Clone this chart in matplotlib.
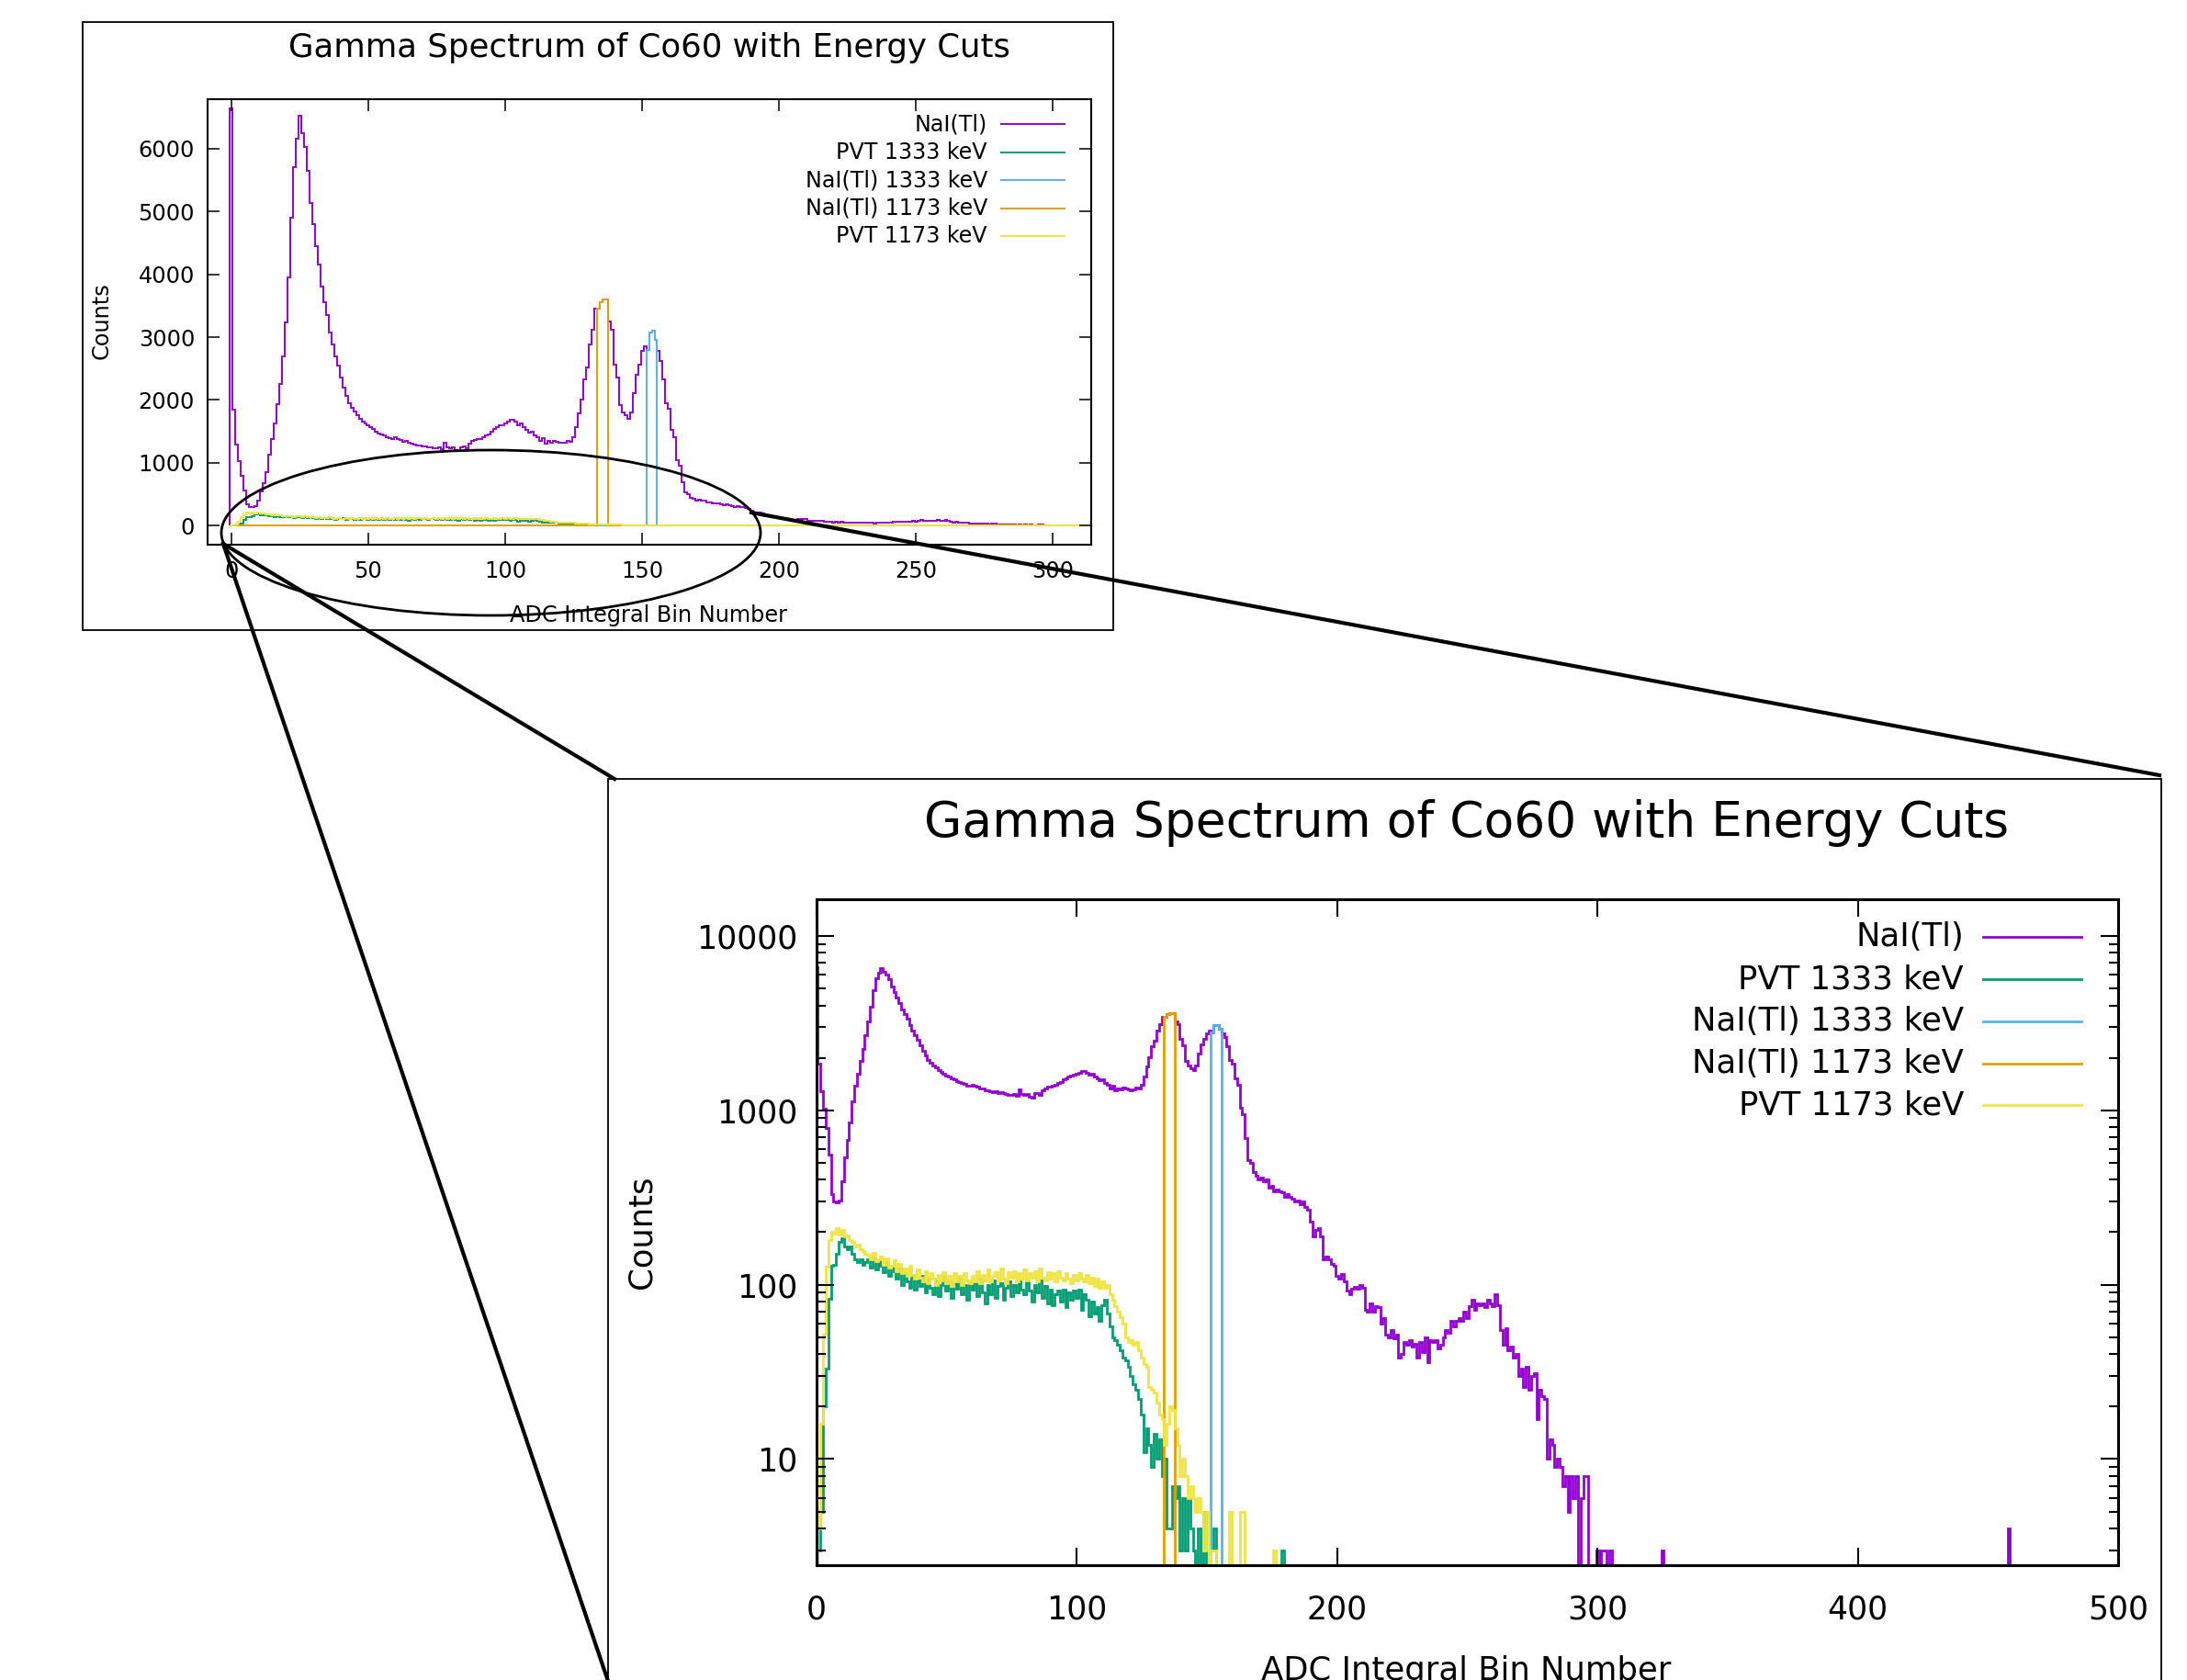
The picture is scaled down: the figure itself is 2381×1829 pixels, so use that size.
import numpy as np
import matplotlib.pyplot as plt
from matplotlib.patches import Rectangle, Ellipse
from matplotlib.lines import Line2D
from matplotlib.ticker import LogLocator, NullFormatter, FixedLocator

# ---- data (counts per ADC integral bin, bin i centred on i) ----
nai_counts = [
    6650, 1850, 1290, 1020, 790, 560, 330, 300, 295, 305,
    390, 540, 680, 850, 1120, 1380, 1620, 1930, 2250, 2700,
    3230, 3950, 4900, 5710, 6160, 6520, 6250, 6030, 5650, 5130,
    4800, 4450, 4150, 3800, 3550, 3350, 3080, 2880, 2700, 2540,
    2350, 2200, 2060, 1950, 1880, 1810, 1760, 1700, 1660, 1620,
    1590, 1560, 1530, 1500, 1470, 1450, 1440, 1410, 1390, 1380,
    1400, 1380, 1360, 1330, 1340, 1310, 1300, 1290, 1270, 1280,
    1260, 1265, 1250, 1240, 1230, 1225, 1240, 1215, 1320, 1240,
    1230, 1245, 1200, 1180, 1250, 1260, 1230, 1300, 1340, 1360,
    1370, 1380, 1400, 1440, 1450, 1500, 1530, 1560, 1590, 1600,
    1620, 1650, 1680, 1690, 1650, 1600, 1620, 1560, 1520, 1480,
    1500, 1440, 1400, 1340, 1390, 1300, 1340, 1320, 1350, 1330,
    1320, 1310, 1320, 1350, 1330, 1400, 1560, 1780, 2010, 2330,
    2510, 2880, 3110, 3450, 3450, 3560, 3600, 3600, 3250, 3120,
    2560, 2350, 1920, 1800, 1750, 1700, 1800, 2110, 2400, 2560,
    2780, 2850, 2800, 3080, 3100, 2950, 2780, 2620, 2330, 1950,
    1860, 1520, 1400, 1040, 955, 690, 520, 500, 440, 420,
    400, 410, 390, 400, 360, 370, 345, 350, 345, 340,
    320, 330, 320, 310, 300, 305, 290, 300, 280, 270,
    230, 190, 205, 210, 190, 140, 145, 140, 132, 128,
    112, 108, 115, 105, 92, 88, 95, 97, 95, 100,
    96, 72, 70, 78, 70, 75, 74, 60, 64, 52,
    50, 55, 49, 52, 38, 40, 47, 45, 48, 44,
    46, 38, 47, 41, 50, 36, 48, 47, 48, 43,
    45, 50, 55, 53, 62, 58, 62, 64, 62, 70,
    64, 75, 82, 72, 78, 76, 78, 74, 82, 78,
    75, 88, 76, 55, 45, 56, 42, 44, 38, 40,
    30, 33, 26, 34, 25, 30, 31, 17, 25, 23,
    22, 10, 13, 12, 9, 10, 9, 7, 8, 5,
    8, 6, 8, 1, 6, 8, 8, 1, 0, 0,
    3, 2, 3, 3, 1, 3,
]
nai_stray_bins = [325, 458]
nai_stray_counts = [3, 4]

pvt1333_counts = [
    0, 3, 5, 20, 33, 83, 128, 130, 150, 175,
    185, 165, 160, 165, 150, 140, 135, 140, 130, 135,
    140, 125, 143, 122, 136, 128, 118, 135, 112, 126,
    120, 108, 124, 100, 117, 104, 96, 114, 94, 106,
    98, 112, 90, 108, 96, 88, 106, 86, 100, 112,
    92, 106, 84, 102, 95, 110, 88, 100, 82, 104,
    94, 102, 86, 108, 90, 78, 100, 88, 106, 84,
    98, 102, 82, 96, 104, 86, 100, 90, 104, 94,
    88, 104, 92, 80, 100, 90, 106, 84, 98, 78,
    94, 76, 88, 92, 80, 94, 74, 90, 82, 92,
    84, 94, 72, 88, 82, 66, 80, 68, 74, 62,
    76, 82, 68, 58, 50, 48, 45, 42, 38, 37,
    34, 30, 27, 25, 22, 18, 11, 15, 12, 9,
    14, 10, 13, 8, 10, 4, 4, 7, 6, 7,
    3, 6, 3, 6, 4, 3, 2, 4, 2, 5,
    1, 2, 3, 4, 1, 0, 2, 1, 0, 1,
    0, 1, 2, 0, 1, 0, 0, 1, 0, 0,
    0, 1, 0, 0, 0, 0, 1, 0, 0, 3,
]

pvt1173_counts = [
    0, 4, 16, 52, 127, 180, 200, 197, 210, 195,
    205, 190, 192, 180, 175, 165, 170, 160, 155, 150,
    148, 140, 152, 136, 140, 145, 130, 142, 126, 128,
    138, 120, 132, 116, 124, 112, 128, 114, 108, 122,
    110, 104, 120, 102, 116, 108, 100, 114, 106, 118,
    102, 112, 98, 116, 104, 112, 100, 117, 106, 102,
    112, 104, 120, 102, 114, 106, 122, 104, 112, 118,
    106, 124, 108, 102, 118, 110, 120, 104, 116, 108,
    122, 106, 117, 110, 120, 104, 124, 110, 106, 118,
    108, 116, 104, 120, 110, 106, 117, 108, 102, 114,
    106, 117, 108, 104, 114, 102, 110, 98, 108, 96,
    104, 96, 100, 88, 82, 75, 70, 65, 60, 50,
    47, 48, 45, 47, 42, 38, 35, 34, 26, 25,
    24, 21, 18, 17, 12, 16, 20, 19, 15, 12,
    8, 10, 8, 6, 7, 6, 5, 6, 5, 3,
    5, 2, 3, 3, 1, 2, 1, 0, 2, 5,
    0, 1, 0, 5, 5, 0, 1, 0, 0, 0,
    0, 0, 0, 0, 0, 0, 3,
]

# energy-cut windows on the NaI(Tl) spectrum
nai1333_start = 152
nai1333_counts = [2800, 3080, 3100, 2950]
nai1173_start = 134
nai1173_counts = [3450, 3560, 3600, 3600]

labels = ["NaI(Tl)", "PVT 1333 keV", "NaI(Tl) 1333 keV", "NaI(Tl) 1173 keV", "PVT 1173 keV"]
colors = ["#9400D3", "#009E73", "#56B4E9", "#E69F00", "#F0E442"]

title = "Gamma Spectrum of Co60 with Energy Cuts"
xlabel = "ADC Integral Bin Number"
ylabel = "Counts"

# ---- build full-length histograms ----
nbins = 500
edges = np.arange(nbins + 1) - 0.5


def full(vals, start=0):
    h = np.zeros(nbins)
    h[start:start + len(vals)] = vals
    return h


nai = full(nai_counts)
nai[nai_stray_bins] = nai_stray_counts
series = [nai, full(pvt1333_counts), full(nai1333_counts, nai1333_start),
          full(nai1173_counts, nai1173_start), full(pvt1173_counts)]

plt.rcParams['font.family'] = 'DejaVu Sans'

W, H = 2381, 1829
fig = plt.figure(figsize=(W / 100, H / 100), dpi=100)


def px(x0, y0, x1, y1):
    # pixel box (from top-left) -> figure fraction rect
    return [x0 / W, 1 - y1 / H, (x1 - x0) / W, (y1 - y0) / H]


def draw_legend(ax, fs, lw, top, dy, text_right, l0, l1):
    for i, (lab, c) in enumerate(zip(labels, colors)):
        y = top - i * dy
        ax.text(text_right, y, lab, transform=ax.transAxes, ha='right', va='center',
                fontsize=fs)
        ax.add_line(Line2D([l0, l1], [y, y], transform=ax.transAxes, color=c, lw=lw,
                           clip_on=False))


# ---- small linear overview ----
ax1 = fig.add_axes(px(226, 108, 1188, 593))
for h, c in zip(series, colors):
    ax1.stairs(h, edges, color=c, lw=1.4)
ax1.set_xlim(-8.7, 314)
ax1.set_ylim(-307, 6790)
ax1.set_xticks(np.arange(0, 301, 50))
ax1.set_yticks(np.arange(0, 6001, 1000))
ax1.tick_params(direction='in', length=9.5, width=1.1, labelsize=17.3, top=True, right=True)
ax1.tick_params(axis='x', pad=12)
ax1.tick_params(axis='y', pad=10)
for s in ax1.spines.values():
    s.set_linewidth(1.5)
ax1.text(0.5, 1.1155, title, transform=ax1.transAxes, ha='center', va='center', fontsize=25.6)
ax1.set_xlabel(xlabel, fontsize=17.3)
ax1.set_ylabel(ylabel, fontsize=17.3)
ax1.xaxis.set_label_coords(0.499, -0.159)
ax1.yaxis.set_label_coords(-0.1195, 0.503)
for lab in (ax1.xaxis.label, ax1.yaxis.label):
    lab.set_va('center')
draw_legend(ax1, 17.1, 1.4, 0.944, 30.5 / 485, (1075 - 226) / 962, (1090 - 226) / 962,
            (1159 - 226) / 962)

# ---- large log-scale view ----
ax2 = fig.add_axes(px(889, 979, 2306, 1704))
for h, c in zip(series, colors):
    ax2.stairs(np.clip(h, 0.1, None), edges, color=c, lw=2.0, baseline=None)
ax2.set_yscale('log')
ax2.set_xlim(0, 500)
ax2.set_ylim(2.46, 16250)
ax2.set_xticks(np.arange(0, 501, 100))
ax2.yaxis.set_major_locator(FixedLocator([10, 100, 1000, 10000]))
ax2.yaxis.set_major_formatter(plt.FuncFormatter(lambda v, p: "%d" % v))
ax2.yaxis.set_minor_locator(LogLocator(base=10, subs=np.arange(2, 10)))
ax2.yaxis.set_minor_formatter(NullFormatter())
ax2.tick_params(which='major', direction='in', length=14, width=1.5, labelsize=25,
                top=True, right=True)
ax2.tick_params(which='minor', direction='in', length=7.5, width=1.5, right=True)
ax2.tick_params(axis='x', pad=23)
ax2.tick_params(axis='y', pad=15)
for s in ax2.spines.values():
    s.set_linewidth(2.2)
ax2.text(0.499, 1.1145, title, transform=ax2.transAxes, ha='center', va='center', fontsize=38.4)
ax2.set_xlabel(xlabel, fontsize=25.5)
ax2.set_ylabel(ylabel, fontsize=25.5)
# the reference crops this label at the bottom edge of the picture
ax2.xaxis.set_label_coords(0.499, -0.158)
ax2.yaxis.set_label_coords(-0.1344, 0.5007)
for lab in (ax2.xaxis.label, ax2.yaxis.label):
    lab.set_va('center')
draw_legend(ax2, 25.5, 2.0, 0.943, 45.75 / 725, (2138 - 889) / 1417, (2159 - 889) / 1417,
            (2266 - 889) / 1417)

# ---- frames, zoom ellipse and connectors ----
fig.patches.append(Rectangle((90 / W, 1 - 686 / H), 1122 / W, 662 / H, fill=False,
                             lw=1.3, ec='k', transform=fig.transFigure, zorder=3))
fig.patches.append(Rectangle((662 / W, -0.1), 1691 / W, 0.1 + 1 - 848 / H, fill=False,
                             lw=1.3, ec='k', transform=fig.transFigure, zorder=3))
fig.patches.append(Ellipse((534.5 / W, 1 - 580 / H), 587 / W, 180 / H, fill=False,
                           lw=2.0, ec='k', transform=fig.transFigure, zorder=5))
for (xa, ya), (xb, yb) in [((243, 592), (669, 848)),
                           ((243, 592), (667, 1845)),
                           ((818, 558), (2351, 844))]:
    fig.lines.append(Line2D([xa / W, xb / W], [1 - ya / H, 1 - yb / H], color='k', lw=3.0,
                            transform=fig.transFigure, zorder=5))

fig.savefig("out.png", dpi=100)
